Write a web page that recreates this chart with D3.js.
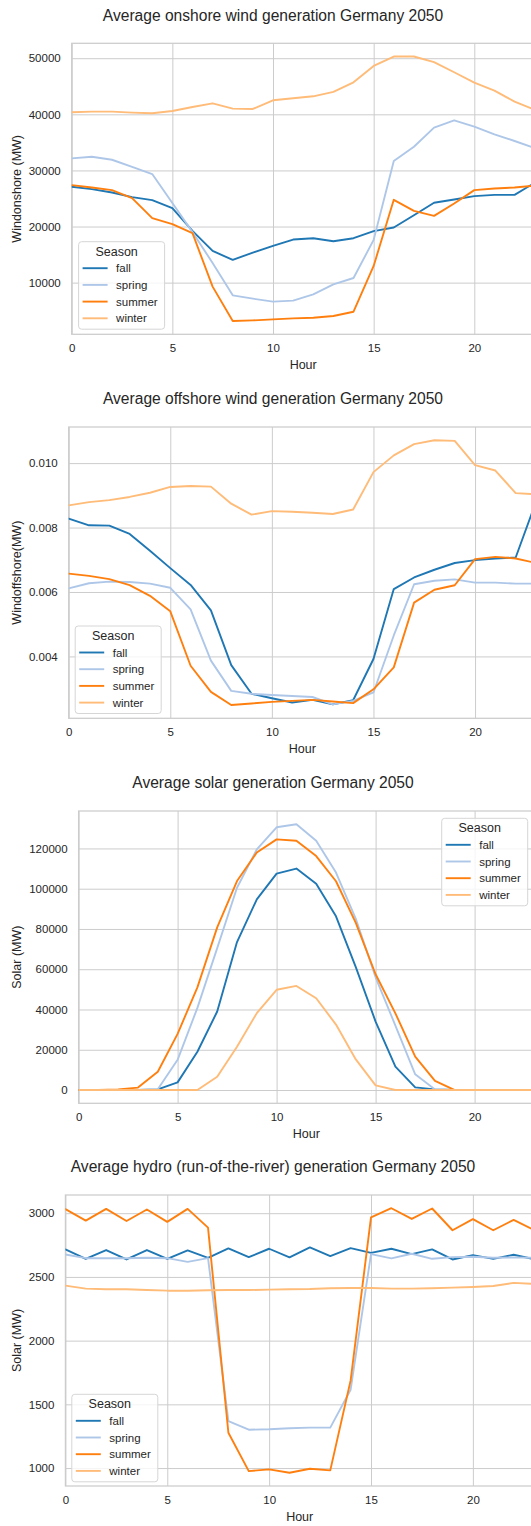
<!DOCTYPE html>
<html><head><meta charset="utf-8">
<script src="https://cdn.jsdelivr.net/npm/d3@7"></script>
<style>
html,body{margin:0;padding:0;background:#fff;}
svg text{font-family:"Liberation Sans",Arial,sans-serif;fill:#262626;}
</style></head>
<body><svg id="c" width="531" height="1526"></svg>
<script>
const hours = d3.range(0, 24);
const seasons = ["fall", "spring", "summer", "winter"];
const seasonColors = ["#1f77b4", "#aec7e8", "#ff7f0e", "#ffbb78"];
const xTicks = [0, 5, 10, 15, 20];

// Onshore wind (MW)
const onshoreFall   = [27080,26670,26070,25240,24700,23270,19230,15650,14050,15360,16550,17680,17920,17380,17920,19170,19820,22020,24230,24820,25420,25650,25650,27800];
const onshoreSpring = [32140,32440,31900,30650,29350,24200,19000,13500,7740,7140,6610,6790,7920,9700,10830,17620,31670,34230,37620,38930,37800,36430,35240,34000];
const onshoreSummer = [27380,26960,26490,25060,21490,20420,18810,9290,3150,3270,3450,3630,3750,4050,4820,12980,24760,22800,21900,24110,26490,26790,26960,27300];
const onshoreWinter = [40360,40480,40480,40300,40180,40600,41310,41960,41010,40950,42500,42860,43210,43990,45710,48630,50300,50300,49290,47500,45650,44230,42260,40810];
const onshoreTicks = [10000, 20000, 30000, 40000, 50000];

// Offshore wind
const offshoreFall   = [0.00828,0.00807,0.00806,0.00780,0.00728,0.00674,0.00622,0.00543,0.00373,0.00284,0.00270,0.00257,0.00265,0.00251,0.00264,0.00392,0.00609,0.00645,0.00669,0.00690,0.00699,0.00704,0.00707,0.00880];
const offshoreSpring = [0.00611,0.00627,0.00632,0.00631,0.00626,0.00613,0.00546,0.00387,0.00293,0.00284,0.00280,0.00277,0.00274,0.00251,0.00262,0.00288,0.00465,0.00624,0.00635,0.00639,0.00629,0.00629,0.00626,0.00626];
const offshoreSummer = [0.00657,0.00650,0.00640,0.00621,0.00588,0.00540,0.00371,0.00290,0.00249,0.00254,0.00259,0.00262,0.00265,0.00260,0.00255,0.00298,0.00366,0.00567,0.00607,0.00621,0.00702,0.00709,0.00704,0.00690];
const offshoreWinter = [0.00869,0.00879,0.00885,0.00895,0.00908,0.00926,0.00929,0.00927,0.00874,0.00840,0.00851,0.00849,0.00846,0.00842,0.00856,0.00972,0.01024,0.01059,0.01071,0.01069,0.00994,0.00977,0.00907,0.00903];
const offshoreTicks = [0.004, 0.006, 0.008, 0.010];

// Solar (MW)
const solarFall   = [0,0,0,0,300,3800,19000,39000,73500,94700,107500,110000,102500,86300,61000,34000,11600,1300,300,0,0,0,0,0];
const solarSpring = [0,0,0,0,400,15000,40800,70500,100500,119500,130500,132000,123800,108000,85000,56000,32000,7800,300,0,0,0,0,0];
const solarSummer = [0,0,300,1200,9100,27900,51000,80800,103800,118000,124500,123800,116200,103700,83000,57500,38100,16600,4500,0,0,0,0,0];
const solarWinter = [0,0,0,0,0,0,0,6600,21500,38200,49800,51700,45600,32500,15200,2300,0,0,0,0,0,0,0,0];
const solarTicks = [0, 20000, 40000, 60000, 80000, 100000, 120000];

// Hydro run-of-the-river (MW)
const hydroFall   = [2716,2642,2711,2637,2711,2642,2708,2650,2724,2655,2721,2653,2732,2663,2726,2689,2721,2679,2716,2637,2671,2642,2674,2639];
const hydroSpring = [2676,2647,2647,2647,2650,2647,2618,2647,1369,1301,1304,1312,1317,1317,1615,2679,2645,2682,2642,2655,2658,2650,2653,2650];
const hydroSummer = [3032,2942,3034,2939,3029,2932,3034,2887,1277,976,990,963,995,982,1688,2968,3039,2955,3037,2866,2953,2866,2947,2868];
const hydroWinter = [2432,2408,2403,2403,2397,2392,2392,2395,2397,2397,2400,2403,2405,2411,2413,2413,2408,2408,2411,2416,2421,2429,2453,2445];
const hydroTicks = [1000, 1500, 2000, 2500, 3000];

const svg = d3.select("#c");

const charts = [
  {title:"Average onshore wind generation Germany 2050", ylabel:"Windonshore (MW)",
   series:[onshoreFall,onshoreSpring,onshoreSummer,onshoreWinter], yTicks:onshoreTicks, fmt:d3.format("d"),
   left:71.7, right:534.7, top:43.3, bottom:334.3, legend:[78.6,241.7]},
  {title:"Average offshore wind generation Germany 2050", ylabel:"Windoffshore(MW)",
   series:[offshoreFall,offshoreSpring,offshoreSummer,offshoreWinter], yTicks:offshoreTicks, fmt:d3.format(".3f"),
   left:68.7, right:536, top:427, bottom:718.3, legend:[75.2,626]},
  {title:"Average solar generation Germany 2050", ylabel:"Solar (MW)",
   series:[solarFall,solarSpring,solarSummer,solarWinter], yTicks:solarTicks, fmt:d3.format("d"),
   left:78.6, right:534, top:811, bottom:1103.3, legend:[441.7,818.3]},
  {title:"Average hydro (run-of-the-river) generation Germany 2050", ylabel:"Solar (MW)",
   series:[hydroFall,hydroSpring,hydroSummer,hydroWinter], yTicks:hydroTicks, fmt:d3.format("d"),
   left:65.4, right:534, top:1195, bottom:1486, legend:[71.8,1394.3]}
];

charts.forEach((c, ci) => {
  const g = svg.append("g");
  const all = c.series.flat();
  const lo = d3.min(all), hi = d3.max(all), pad = (hi - lo) * 0.05;
  const x = d3.scaleLinear().domain([0, 23]).range([c.left, c.right]);
  const y = d3.scaleLinear().domain([lo - pad, hi + pad]).range([c.bottom, c.top]);

  const clipId = "clip" + ci;
  g.append("clipPath").attr("id", clipId).append("rect")
    .attr("x", c.left).attr("y", c.top).attr("width", c.right - c.left).attr("height", c.bottom - c.top);

  // grid
  const yAxis = d3.axisLeft(y).tickValues(c.yTicks).tickFormat(c.fmt).tickSize(-(c.right - c.left)).tickPadding(11);
  const ga = g.append("g").attr("transform", `translate(${c.left},0)`).call(yAxis);
  ga.select(".domain").remove();
  ga.selectAll("line").attr("stroke", "#cccccc").attr("stroke-width", 1);
  ga.selectAll("text").attr("font-size", "11.5px").attr("fill", "#262626").attr("x", -11);

  const xAxis = d3.axisBottom(x).tickValues(xTicks).tickFormat(d3.format("d")).tickSize(-(c.bottom - c.top)).tickPadding(10);
  const gx = g.append("g").attr("transform", `translate(0,${c.bottom})`).call(xAxis);
  gx.select(".domain").remove();
  gx.selectAll("line").attr("stroke", "#cccccc").attr("stroke-width", 1);
  gx.selectAll("text").attr("font-size", "11.5px").attr("fill", "#262626");

  // spines
  g.append("rect").attr("x", c.left).attr("y", c.top).attr("width", c.right - c.left).attr("height", c.bottom - c.top)
    .attr("fill", "none").attr("stroke", "#cccccc").attr("stroke-width", 1.25);

  // lines
  const line = d3.line().x((d, i) => x(hours[i])).y(d => y(d));
  const lg = g.append("g").attr("clip-path", `url(#${clipId})`);
  c.series.forEach((s, si) => {
    lg.append("path").datum(s).attr("d", line).attr("fill", "none")
      .attr("stroke", seasonColors[si]).attr("stroke-width", 1.9)
      .attr("stroke-linejoin", "round").attr("stroke-linecap", "round");
  });

  // title
  g.append("text").attr("x", 273).attr("y", c.top - 28).attr("dy", "0.35em")
    .attr("text-anchor", "middle").attr("font-size", "15.6px").text(c.title);
  // x label
  g.append("text").attr("x", (c.left + c.right) / 2).attr("y", c.bottom + 30.8).attr("dy", "0.35em")
    .attr("text-anchor", "middle").attr("font-size", "12.5px").text("Hour");
  // y label
  g.append("text").attr("transform", `translate(17,${(c.top + c.bottom) / 2}) rotate(-90)`).attr("dy", "0.35em")
    .attr("text-anchor", "middle").attr("font-size", "12.5px").text(c.ylabel);

  // legend
  const [lx, ly] = c.legend;
  const leg = g.append("g").attr("transform", `translate(${lx},${ly})`);
  leg.append("rect").attr("width", 86).attr("height", 87.5).attr("rx", 3)
    .attr("fill", "#ffffff").attr("fill-opacity", 0.8).attr("stroke", "#d6d6d6").attr("stroke-width", 1);
  leg.append("text").attr("x", 38).attr("y", 9.7).attr("dy", "0.35em").attr("text-anchor", "middle")
    .attr("font-size", "12.5px").text("Season");
  seasons.forEach((s, i) => {
    const yy = 26.5 + i * 16.7;
    leg.append("line").attr("x1", 4).attr("x2", 29).attr("y1", yy).attr("y2", yy)
      .attr("stroke", seasonColors[i]).attr("stroke-width", 1.9);
    leg.append("text").attr("x", 37.5).attr("y", yy).attr("dy", "0.35em").attr("font-size", "11.5px").text(s);
  });
});
</script></body></html>
